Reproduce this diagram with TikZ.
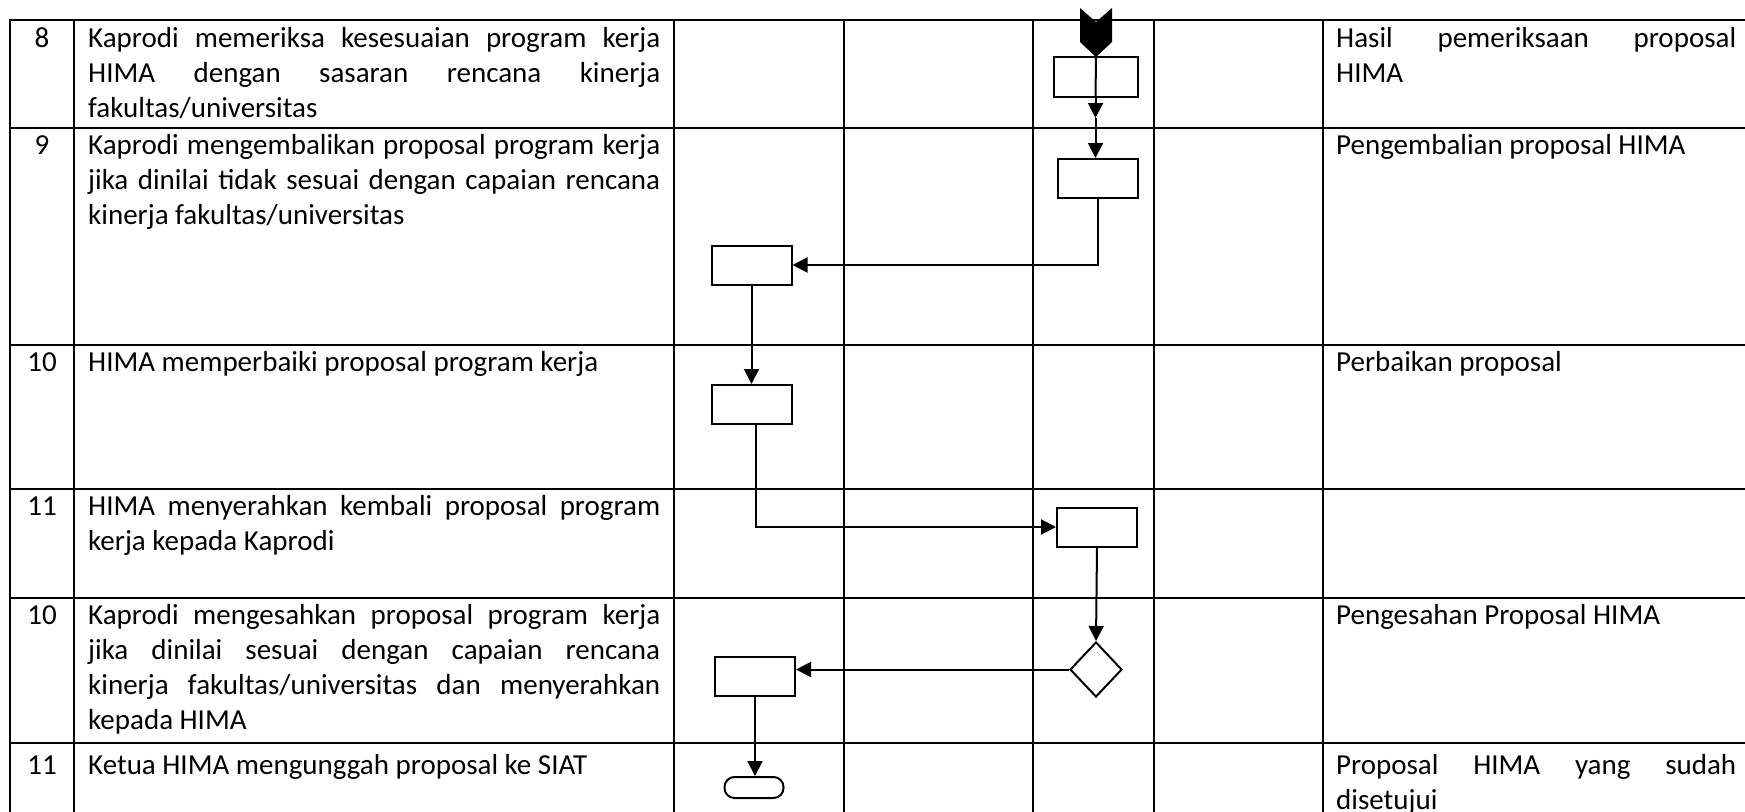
\documentclass[tikz,border=0pt]{standalone}
\usepackage{fontspec}
\setmainfont{Carlito}
\usetikzlibrary{shapes.geometric, arrows.meta, calc}

\tolerance=10000
\hbadness=10000
\hyphenpenalty=10000

\tikzset{
  tabline/.style={line width=2pt, line cap=rect},
  proc/.style={draw, line width=2pt, rectangle, minimum width=80pt, minimum height=39pt, inner sep=0pt},
  decision/.style={draw, line width=2pt, diamond, minimum width=52pt, minimum height=55pt, inner sep=0pt},
  endbox/.style={draw, line width=2pt, rectangle, rounded corners=10pt, minimum width=59pt, minimum height=21pt, inner sep=0pt},
  arr/.style={line width=2pt, -{Triangle[length=15pt, width=15pt]}},
  txt/.style={anchor=north west, inner sep=0pt, align=justify, font=\fontsize{29pt}{35pt}\selectfont},
  desc/.style={txt, text width=572pt},
  outp/.style={txt, text width=400pt},
  num/.style={anchor=base, inner sep=0pt, font=\fontsize{29pt}{35pt}\selectfont},
}

\begin{document}
\begin{tikzpicture}[x=1pt, y=-1pt]
\useasboundingbox (0,0) rectangle (1745,811);
\clip (0,0) rectangle (1745,811);

% Table grid
\foreach \y in {20,128,345,489,598,743}
  \draw[tabline] (10,\y) -- (1770,\y);
\foreach \x in {10,74,674,844,1033,1154,1323}
  \draw[tabline] (\x,20) -- (\x,830);

% Step numbers
\node[num] (n8) at (42,47) {8};
\node[num] (n9) at (42,154) {9};
\node[num] (n10) at (42,371) {10};
\node[num] (n11) at (42,515) {11};
\node[num] (n12) at (42,624) {10};
\node[num] (n13) at (42,774) {11};

% Activities
\node[desc] (t8) at (88,22.5) {\strut Kaprodi memeriksa kesesuaian program kerja\linebreak HIMA dengan sasaran rencana kinerja\linebreak fakultas/universitas};
\node[desc] (t9) at (88,129.5) {\strut Kaprodi mengembalikan proposal program kerja\linebreak jika dinilai tidak sesuai dengan capaian rencana\linebreak kinerja fakultas/universitas};
\node[desc] (t10) at (88,346.5) {\strut HIMA memperbaiki proposal program kerja};
\node[desc] (t11) at (88,490.5) {\strut HIMA menyerahkan kembali proposal program\linebreak kerja kepada Kaprodi};
\node[desc] (t12) at (88,599.5) {\strut Kaprodi mengesahkan proposal program kerja\linebreak jika dinilai sesuai dengan capaian rencana\linebreak kinerja fakultas/universitas dan menyerahkan\linebreak kepada HIMA};
\node[desc] (t13) at (88,749.5) {\strut Ketua HIMA mengunggah proposal ke SIAT};

% Outputs
\node[outp] (o8) at (1336,22.5) {\strut Hasil pemeriksaan proposal\linebreak HIMA};
\node[outp] (o9) at (1336,129.5) {\strut Pengembalian proposal HIMA};
\node[outp] (o10) at (1336,346.5) {\strut Perbaikan proposal};
\node[outp] (o12) at (1336,599.5) {\strut Pengesahan Proposal HIMA};
\node[outp] (o13) at (1336,749.5) {\strut Proposal HIMA yang sudah\linebreak disetujui};

% Off-page connector
\coordinate (src) at (1096,8);
\fill[shift={(src)}] (-16,0) -- (0,14) -- (16,0) -- (16,34) -- (0,49) -- (-16,34) -- cycle;
\coordinate (srctip) at (1096,57);

% Flow shapes
\node[proc, minimum width=84pt, minimum height=40pt] (b1) at (1095.5,77) {};
\node[proc] (b2) at (1097.5,178.5) {};
\node[proc] (b3) at (751.5,265) {};
\node[proc] (b4) at (751.5,404.5) {};
\node[proc] (b5) at (1097,527) {};
\node[decision] (d1) at (1096,669.5) {};
\node[proc] (b6) at (755,676.5) {};
\node[endbox] (e1) at (754,787.5) {};

% Connectors
\draw[line width=2pt] (srctip) -- (b1.south);
\coordinate (m1) at ($(b1.south)+(0,20)$);
\draw[arr] (b1.south) -- (m1);
\draw[arr] (m1) -- (m1 |- b2.north);
\draw[arr] (b2.south) |- (b3.east);
\draw[arr] (b3.south) -- (b4.north);
\draw[arr] ([xshift=4pt]b4.south) |- (b5.west);
\draw[arr] (b5.south) -- (d1.north);
\draw[arr] (d1.west) -- (d1.west -| b6.east);
\draw[arr] (b6.south) -- (b6.south |- e1.north);
\end{tikzpicture}
\end{document}
